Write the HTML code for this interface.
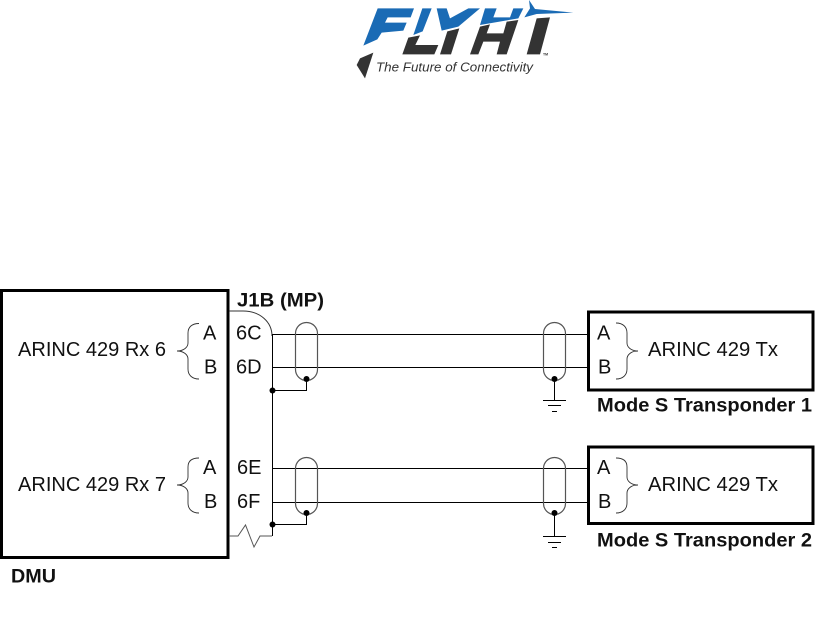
<!DOCTYPE html>
<html>
<head>
<meta charset="utf-8">
<style>
html,body{margin:0;padding:0;background:#fff;width:815px;height:619px;overflow:hidden}
svg{display:block}
text{font-family:"Liberation Sans",sans-serif;fill:#111}
.t{font-size:20px}
.b{font-size:19px;font-weight:bold}
</style>
</head>
<body>
<svg width="815" height="619" viewBox="0 0 815 619" xmlns="http://www.w3.org/2000/svg">
<!-- logo -->
<g transform="translate(340 0) scale(0.33333)">
<g fill="#1a6bb5">
<path d="M113 25H222L212 52H143L135 68H200L190 92L125 98L112 118L70 137Z"/>
<path d="M247 25H275L248 94L220 105Z"/>
<path d="M290 25H320L330 55L385 25H420L355 80L305 92Z"/>
<path d="M435 25H470L460 52H510L520 25H550L535 55L420 75Z"/>
<path d="M553 52L570 25L567 0L585 27L700 38L590 42Z"/>
</g>
<g fill="#333">
<path d="M205 113L240 106L226 135H295L283 163H187Z"/>
<path d="M322 94L358 85L333 163H300Z"/>
<path d="M420 80L450 73L440 100H490L500 65L535 60L500 163H470L480 125H430L415 163H390Z"/>
<path d="M590 55L630 52L600 163H560Z"/>
<path d="M100 158L60 175L50 195L75 235Z"/>
</g>
</g>
<text x="376" y="71.500" font-size="13" font-style="italic" textLength="157" lengthAdjust="spacingAndGlyphs" style="fill:#333">The Future of Connectivity</text>
<text x="543" y="55.500" font-size="3.500" font-weight="bold" style="fill:#333">TM</text>

<!-- boxes -->
<g fill="none" stroke="#000" stroke-width="3">
<path d="M1.500 290.500H228V557.500H1.500Z"/>
<path d="M588.500 312H813V390H588.500Z"/>
<path d="M588.500 447H813V523.500H588.500Z"/>
</g>

<!-- J1B connector outline -->
<path d="M229 311H243C260 311 272 322 272 336" fill="none" stroke="#333" stroke-width="1"/>
<path d="M272.500 334V536" fill="none" stroke="#000" stroke-width="1"/>
<path d="M229 536H238L245.500 525L254 547L260 536H272" fill="none" stroke="#555" stroke-width="1"/>

<!-- signal wires -->
<g stroke="#000" stroke-width="1" fill="none">
<path d="M272 334.500H587M272 367.500H587M272 468.500H587M272 502.500H587"/>
<path d="M272 390.500H306.500V379M272 524.500H306.500V513"/>
<path d="M554.500 379V400M543 400.500H566M548 405.500H561M552 411.500H557"/>
<path d="M554.500 513V536M543 536.500H566M548 542.500H561M552 547.500H557"/>
</g>

<!-- shields -->
<g fill="none" stroke="#555" stroke-width="1.200">
<rect x="295.500" y="322.500" width="22" height="58" rx="11"/>
<rect x="295.500" y="457.500" width="22" height="57" rx="11"/>
<rect x="543.500" y="322.500" width="22" height="58" rx="11"/>
<rect x="543.500" y="457.500" width="22" height="57" rx="11"/>
</g>

<!-- dots -->
<g fill="#000">
<circle cx="272.500" cy="390.500" r="3"/>
<circle cx="306.500" cy="379" r="3"/>
<circle cx="554.500" cy="379" r="3"/>
<circle cx="272.500" cy="524.500" r="3"/>
<circle cx="306.500" cy="513" r="3"/>
<circle cx="554.500" cy="513" r="3"/>
</g>

<!-- braces -->
<g fill="none" stroke="#333" stroke-width="0.900">
<path d="M199 323.500C192 323.500 188 327 188 333V343C188 347 184 351 177 351C184 351 188 355 188 359V369C188 375 192 379 199 379"/>
<path d="M199 458C192 458 188 461 188 467V477C188 481 184 485 177 485C184 485 188 489 188 493V503C188 509 192 513 199 513"/>
<path d="M616 323C623 323 627 327 627 333V343C627 347 631 351 638 351C631 351 627 355 627 359V369C627 375 623 379 616 379"/>
<path d="M616 458C623 458 627 461 627 467V477C627 481 631 485 638 485C631 485 627 489 627 493V503C627 509 623 513 616 513"/>
</g>

<!-- labels -->
<text class="t" x="18" y="356" textLength="148" lengthAdjust="spacingAndGlyphs">ARINC 429 Rx 6</text>
<text class="t" x="18" y="491" textLength="148" lengthAdjust="spacingAndGlyphs">ARINC 429 Rx 7</text>
<text class="t" x="203" y="339.500">A</text>
<text class="t" x="204" y="373.500">B</text>
<text class="t" x="203" y="474">A</text>
<text class="t" x="204" y="508">B</text>
<text class="t" x="236" y="339.500">6C</text>
<text class="t" x="236" y="373.500">6D</text>
<text class="t" x="237" y="474">6E</text>
<text class="t" x="237" y="508">6F</text>
<text class="t" x="597" y="339.500">A</text>
<text class="t" x="598" y="373.500">B</text>
<text class="t" x="597" y="474">A</text>
<text class="t" x="598" y="508">B</text>
<text class="t" x="648" y="356" textLength="130" lengthAdjust="spacingAndGlyphs">ARINC 429 Tx</text>
<text class="t" x="648" y="491" textLength="130" lengthAdjust="spacingAndGlyphs">ARINC 429 Tx</text>
<text class="b" x="237" y="306.500" textLength="87" lengthAdjust="spacingAndGlyphs">J1B (MP)</text>
<text class="b" x="597" y="411.500" textLength="215" lengthAdjust="spacingAndGlyphs">Mode S Transponder 1</text>
<text class="b" x="597" y="546.500" textLength="215" lengthAdjust="spacingAndGlyphs">Mode S Transponder 2</text>
<text class="b" x="11" y="582.500" textLength="45" lengthAdjust="spacingAndGlyphs">DMU</text>
</svg>
</body>
</html>
